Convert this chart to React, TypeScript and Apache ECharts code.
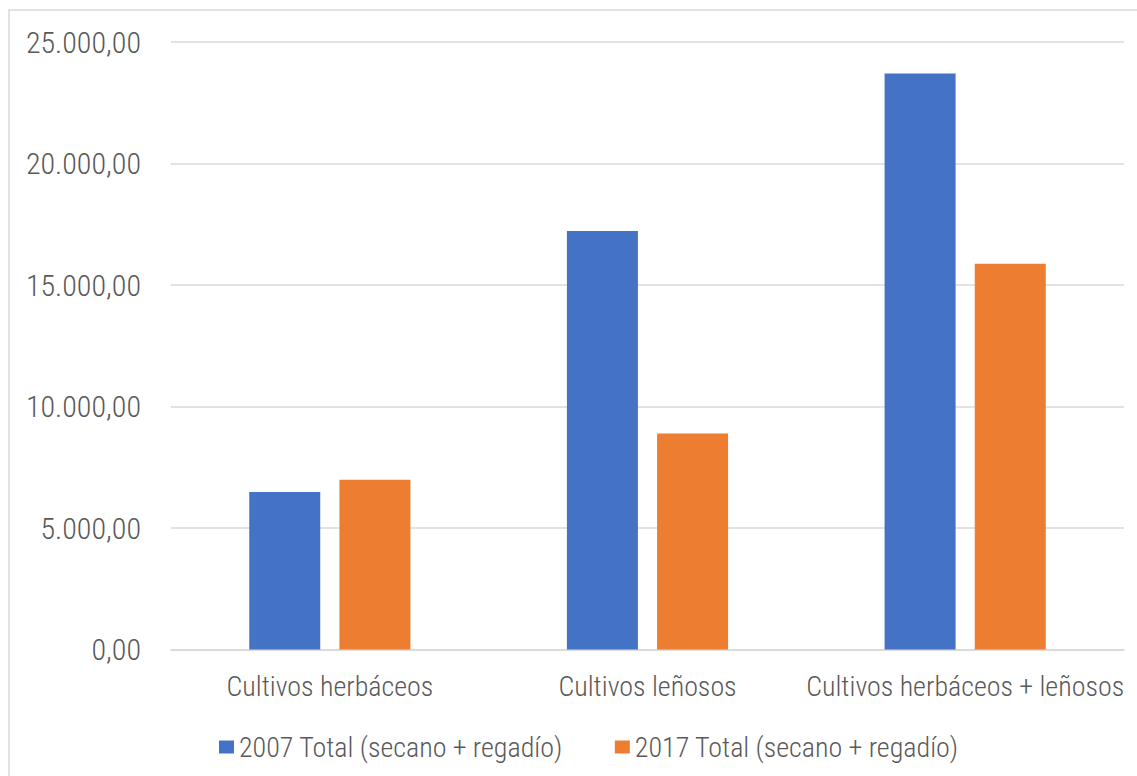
import React, { useEffect, useRef } from "react";
import * as echarts from "echarts";

// Superficie cultivada por tipo de cultivo (secano + regadío)
const categories = ["Cultivos herbáceos", "Cultivos leñosos", "Cultivos herbáceos + leñosos"];
const seriesNames = ["2007 Total (secano + regadío)", "2017 Total (secano + regadío)"];
const values2007 = [6480, 17225, 23705];
const values2017 = [6985, 8890, 15875];
const yTicks = { min: 0, max: 25000, interval: 5000 };

const FONT = "'Roboto Condensed', 'Liberation Sans', sans-serif";
const TEXT_COLOR = "#595959";
const GRID_COLOR = "#D9D9D9";

// 25000 -> "25.000,00"
function formatEs(v: number): string {
  const [intPart, dec] = v.toFixed(2).split(".");
  const withDots = intPart.replace(/\B(?=(\d{3})+(?!\d))/g, ".");
  return `${withDots},${dec}`;
}

export default function App() {
  const ref = useRef<HTMLDivElement>(null);

  useEffect(() => {
    if (!ref.current) return;
    const chart = echarts.init(ref.current, undefined, { renderer: "svg" });
    chart.setOption({
      animation: false,
      backgroundColor: "#ffffff",
      textStyle: { fontFamily: FONT },
      graphic: [
        {
          type: "rect",
          shape: { x: 9, y: 10, width: 1200, height: 800 },
          style: { fill: "none", stroke: GRID_COLOR, lineWidth: 1.5 },
          silent: true,
          z: -1,
        },
      ],
      grid: { left: 171, right: 13, top: 42, bottom: 126.5, outerBoundsMode: "none", containLabel: false },
      legend: {
        left: 214,
        top: 728,
        icon: "rect",
        itemWidth: 15,
        itemHeight: 13,
        itemGap: 52,
        textStyle: { color: TEXT_COLOR, fontSize: 28, fontWeight: 300, fontFamily: FONT },
        data: seriesNames,
      },
      xAxis: {
        type: "category",
        data: categories,
        axisLine: { show: true, lineStyle: { color: GRID_COLOR, width: 1.5 } },
        axisTick: { show: false },
        axisLabel: {
          color: TEXT_COLOR,
          fontSize: 28,
          fontWeight: 300,
          fontFamily: FONT,
          margin: 23,
          interval: 0,
          hideOverlap: false,
        },
      },
      yAxis: {
        type: "value",
        min: yTicks.min,
        max: yTicks.max,
        interval: yTicks.interval,
        axisLine: { show: false },
        axisTick: { show: false },
        splitLine: { lineStyle: { color: GRID_COLOR, width: 1.5 } },
        axisLabel: {
          color: TEXT_COLOR,
          fontSize: 30,
          fontWeight: 300,
          fontFamily: FONT,
          margin: 30,
          formatter: (v: number) => formatEs(v),
        },
      },
      series: [
        {
          name: seriesNames[0],
          type: "bar",
          data: values2007,
          barWidth: 71,
          barGap: "27%",
          itemStyle: { color: "#4472C4" },
        },
        {
          name: seriesNames[1],
          type: "bar",
          data: values2017,
          barWidth: 71,
          barGap: "27%",
          itemStyle: { color: "#ED7D31" },
        },
      ],
    });
    return () => chart.dispose();
  }, []);

  return (
    <div
      ref={ref}
      style={{ position: "fixed", left: 0, top: 0, width: 1137, height: 776 }}
    />
  );
}
